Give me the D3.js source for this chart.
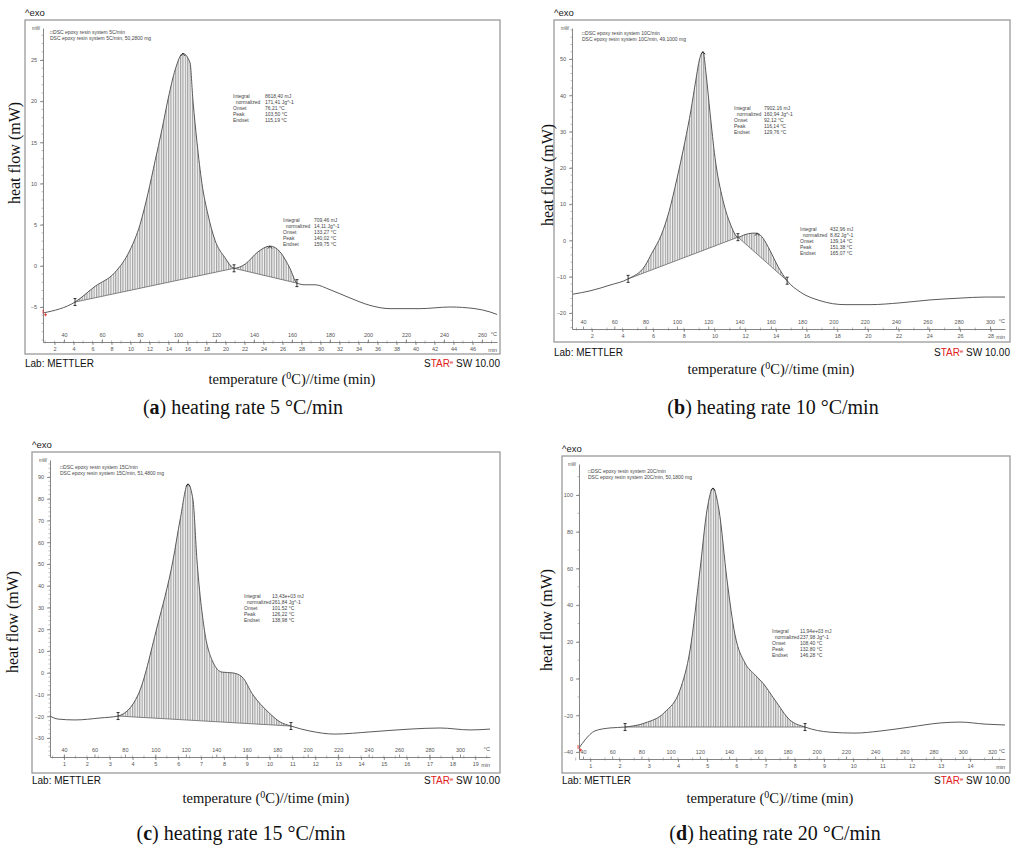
<!DOCTYPE html>
<html>
<head>
<meta charset="utf-8">
<script src="https://cdn.jsdelivr.net/npm/d3@7"></script>
<style>
  body { margin: 0; background: #fff; }
  svg { display: block; }
  text { font-family: "Liberation Sans", Arial, sans-serif; }
  .serif { font-family: "Liberation Serif", "Times New Roman", serif; }
  .tick text { fill: #555; font-size: 5.5px; }
  .tick line { stroke: #666; stroke-width: 0.7; }
</style>
</head>
<body>
<svg id="fig" width="1016" height="846"></svg>
<script>
// (a) 5 C/min : temperature (C) and heat flow (mW)
let tempA = [29.5, 45.8, 56.3, 66.8, 74.7, 80, 84.2, 88, 91.5, 95, 98.5, 102.6, 106.3, 107.9, 110, 112.6, 115.8, 119.5, 124.7, 129.5, 135.3, 142.1, 148.4, 153.7, 158.9, 162.6, 166.8, 172.1, 180, 190.5, 201, 211.6, 227.4, 243.2, 256.3, 264.2, 267.9];
let flowA = [-5.7, -4.4, -2.5, -0.8, 1.9, 5.0, 8.8, 12.8, 16.5, 20.5, 23.8, 25.8, 24.7, 20, 15, 10, 6.2, 3.1, 1.0, -0.3, 0.2, 1.7, 2.4, 1.7, -0.3, -2.1, -2.3, -2.3, -2.9, -3.9, -4.8, -5.2, -5.2, -5, -5.2, -5.6, -5.9];
let limitsA = [45.8, 129.5, 162.6];
let peaksA = [102.6, 148.4];

// (b) 10 C/min
let tempB = [33.6, 44.5, 57.3, 68.8, 79.6, 84, 90, 95, 100, 105, 109, 112, 114.5, 116.7, 118.6, 121.2, 124.3, 129.4, 133.9, 139, 143.5, 148, 151.2, 155, 159.5, 164.6, 170.4, 178.7, 191.4, 207.4, 223.4, 242.6, 261.7, 280.9, 296.9, 309.6];
let flowB = [-14.8, -13.9, -12.3, -10.6, -7.0, -3.5, 1.5, 8, 17, 27, 36, 44, 50, 52, 46, 35, 22.9, 11.1, 4.8, 0.9, 1.6, 2.0, 2.0, 0.6, -2.8, -7.2, -11.1, -14.2, -16.6, -17.7, -17.7, -17.2, -16.4, -15.9, -15.6, -15.6];
let limitsB = [68.8, 139, 170.4];
let peaksB = [116.7, 151.2];

// (c) 15 C/min
let tempC = [30.8, 36.1, 47.2, 63.6, 75.5, 88.6, 101.1, 111.6, 116.2, 121.4, 124.7, 127.3, 131.9, 137.8, 143.7, 151, 156.9, 164.1, 174, 181.8, 189, 201.5, 217.9, 240.9, 267.2, 286.9, 306.6, 319.7];
let flowC = [-19.9, -21.3, -21.7, -20.8, -19.9, -10.2, 21, 51.8, 70.2, 86.8, 79.4, 51.8, 21, 4.9, 0.3, -0.1, -1.9, -10.2, -18, -22.6, -24.5, -26.8, -28.2, -27.2, -25.9, -25.4, -26.3, -25.9];
let limitsC = [75.5, 189];
let peaksC = [121.4];

// (d) 20 C/min
let tempD = [37.3, 41.4, 48.2, 58.5, 68.8, 82.4, 96.1, 106.4, 113.3, 120.1, 124.9, 129, 133.1, 138.6, 144.1, 150.9, 157.8, 163.2, 171.4, 181.7, 192, 209.1, 226.2, 243.3, 263.9, 284.4, 298.1, 315.2, 328.9];
let flowD = [-37.8, -33.4, -28.5, -26.9, -26.4, -24.2, -18.2, -6.2, 15.6, 59.2, 91.8, 103.8, 91.8, 53.7, 23.7, 8.5, 2, -2.5, -11.7, -22.6, -26.4, -29.2, -29.7, -28.6, -26.4, -24.2, -23.7, -24.8, -25.3];
let limitsD = [68.8, 192];
let peaksD = [129];

// evaluation boxes
let annoLabels = ["Integral", "  normalized", "Onset", "Peak", "Endset"];
let annoA1 = ["8618,40 mJ", "171,41 Jg^-1", "76,21 °C", "103,50 °C", "115,19 °C"];
let annoA2 = ["709,46 mJ", "14,11 Jg^-1", "133,27 °C", "140,02 °C", "159,75 °C"];
let annoB1 = ["7902,16 mJ", "160,94 Jg^-1", "92,12 °C", "116,14 °C", "129,76 °C"];
let annoB2 = ["432,96 mJ", "8,82 Jg^-1", "139,14 °C", "151,38 °C", "165,07 °C"];
let annoC = ["13,43e+03 mJ", "261,84 Jg^-1", "101,52 °C", "126,22 °C", "138,98 °C"];
let annoD = ["11,94e+03 mJ", "237,98 Jg^-1", "108,40 °C", "132,80 °C", "146,28 °C"];

let headers = [
  ["□DSC epoxy resin system 5C/min", "DSC epoxy resin system 5C/min, 50,2800 mg"],
  ["□DSC epoxy resin system 10C/min", "DSC epoxy resin system 10C/min, 49,1000 mg"],
  ["□DSC epoxy resin system 15C/min", "DSC epoxy resin system 15C/min, 51,4800 mg"],
  ["□DSC epoxy resin system 20C/min", "DSC epoxy resin system 20C/min, 50,1800 mg"]
];
let captionLetters = ["a", "b", "c", "d"];
let captionTexts = [" heating rate 5 °C/min", " heating rate 10 °C/min", " heating rate 15 °C/min", " heating rate 20 °C/min"];

let svg = d3.select("#fig");

// vertical hatching used by STARe for integrated peaks
let pat = svg.append("defs").append("pattern")
    .attr("id", "hatch")
    .attr("patternUnits", "userSpaceOnUse")
    .attr("width", 2.4).attr("height", 10);
pat.append("rect").attr("width", 2.4).attr("height", 10).attr("fill", "#f4f4f4");
pat.append("line")
    .attr("x1", 0.6).attr("x2", 0.6).attr("y1", 0).attr("y2", 10)
    .attr("stroke", "#8a8a8a").attr("stroke-width", 0.9);

let panels = [
  { temp: tempA, flow: flowA, limits: limitsA, peaks: peaksA, annos: [[annoA1, 233, 98, 32], [annoA2, 283, 222, 31]],
    tDom: [40, 260], tRange: [64, 482], fDom: [-5, 25], fRange: [307, 60],
    frame: [25, 20, 500, 354], axisY: 342, yAxisX: 43, xEnd: 497, yTop: 28, labBase: 367,
    T0: 25, rate: 5, temps: d3.range(40, 261, 20), mins: d3.range(2, 47, 2), minStep: 1,
    fTicks: d3.range(-5, 26, 5), fMinor: 1, startMark: true,
    head: [50, 34], yLab: [20, 153], xLab: [292, 384], cap: [243, 414] },
  { temp: tempB, flow: flowB, limits: limitsB, peaks: peaksB, annos: [[annoB1, 734, 110, 30], [annoB2, 800, 231, 30]],
    tDom: [40, 300], tRange: [583, 990], fDom: [-20, 50], fRange: [313, 59],
    frame: [554, 20, 1010, 342], axisY: 329, yAxisX: 572, xEnd: 1005, yTop: 28, labBase: 356,
    T0: 26, rate: 9.8, temps: d3.range(40, 301, 20), mins: d3.range(2, 29, 2), minStep: 1,
    fTicks: d3.range(-20, 51, 10), fMinor: 2, startMark: false,
    head: [582, 35], yLab: [553, 175], xLab: [771, 374], cap: [773, 414] },
  { temp: tempC, flow: flowC, limits: limitsC, peaks: peaksC, annos: [[annoC, 244, 598, 28]],
    tDom: [40, 300], tRange: [64, 460], fDom: [-30, 90], fRange: [738, 477],
    frame: [32, 452, 500, 773], axisY: 757, yAxisX: 50, xEnd: 490, yTop: 460, labBase: 784,
    T0: 25, rate: 15, temps: d3.range(40, 301, 20), mins: d3.range(1, 20, 1), minStep: 0.5,
    fTicks: d3.range(-30, 91, 10), fMinor: 2, startMark: false,
    head: [60, 469], yLab: [18, 622], xLab: [266, 803], cap: [241, 840] },
  { temp: tempD, flow: flowD, limits: limitsD, peaks: peaksD, annos: [[annoD, 772, 633, 28]],
    tDom: [40, 320], tRange: [583, 992], fDom: [-40, 100], fRange: [752, 495],
    frame: [562, 456, 1010, 773], axisY: 759, yAxisX: 579, xEnd: 1005, yTop: 464, labBase: 784,
    T0: 25, rate: 20, temps: d3.range(40, 321, 20), mins: d3.range(1, 15, 1), minStep: 0.5,
    fTicks: d3.range(-40, 101, 20), fMinor: 10, startMark: true,
    head: [588, 473], yLab: [552, 620], xLab: [770, 803], cap: [775, 840] }
];

panels.forEach(function(p, i) { drawPanel(p, i); });

function drawPanel(p, i) {
  let g = svg.append("g");
  let x = d3.scaleLinear().domain(p.tDom).range(p.tRange);
  let y = d3.scaleLinear().domain(p.fDom).range(p.fRange);
  let fr = p.frame;

  g.append("rect")
      .attr("x", fr[0]).attr("y", fr[1])
      .attr("width", fr[2] - fr[0]).attr("height", fr[3] - fr[1])
      .attr("fill", "none").attr("stroke", "#9a9a9a").attr("stroke-width", 1.3);

  g.append("text").attr("x", fr[0]).attr("y", fr[1] - 4)
      .attr("font-size", 9.5).attr("fill", "#222").text("^exo");
  g.append("text").attr("x", fr[0]).attr("y", p.labBase)
      .attr("font-size", 10).attr("fill", "#111").text("Lab: METTLER");
  let star = g.append("text").attr("x", fr[2]).attr("y", p.labBase)
      .attr("font-size", 10).attr("text-anchor", "end").attr("fill", "#111");
  star.append("tspan").text("S");
  star.append("tspan").attr("fill", "#e0201b").text("TAR");
  star.append("tspan").attr("fill", "#e0201b").attr("font-size", 6).attr("dy", -3).text("e");
  star.append("tspan").attr("dy", 3).text(" SW 10.00");

  // curve names
  headers[i].forEach(function(h, k) {
    g.append("text").attr("x", p.head[0]).attr("y", p.head[1] + k * 6)
        .attr("font-size", 5).attr("fill", "#444").text(h);
  });

  // y axis (mW)
  let yAx = y.copy().domain([y.invert(p.yTop), y.invert(p.axisY)]).range([p.yTop, p.axisY]);
  g.append("g").attr("transform", "translate(" + p.yAxisX + ",0)")
      .call(d3.axisLeft(yAx).tickValues(p.fTicks).tickSize(3).tickSizeOuter(0).tickPadding(3))
      .call(function(a) { a.select(".domain").attr("stroke", "#666").attr("stroke-width", 0.8); });
  let fMinor = d3.range(Math.ceil(yAx.domain()[1] / p.fMinor) * p.fMinor, yAx.domain()[0], p.fMinor);
  g.append("g").selectAll("line").data(fMinor).enter().append("line")
      .attr("x1", p.yAxisX - 1.5).attr("x2", p.yAxisX)
      .attr("y1", function(d) { return y(d); }).attr("y2", function(d) { return y(d); })
      .attr("stroke", "#777").attr("stroke-width", 0.5);
  g.append("text").attr("x", p.yAxisX - 11).attr("y", p.yTop + 2)
      .attr("font-size", 4.5).attr("fill", "#555").text("mW");

  // temperature above / time below, sharing one baseline
  let xAx = x.copy().domain([x.invert(p.yAxisX), x.invert(p.xEnd)]).range([p.yAxisX, p.xEnd]);
  g.append("g").attr("transform", "translate(0," + p.axisY + ")")
      .call(d3.axisTop(xAx).tickValues(p.temps).tickSize(2.5).tickSizeOuter(0).tickPadding(3))
      .call(function(a) { a.select(".domain").attr("stroke", "#666").attr("stroke-width", 0.8); });
  let tScale = d3.scaleLinear().domain([0, 1]).range([x(p.T0), x(p.T0 + p.rate)]);
  g.append("g").attr("transform", "translate(0," + p.axisY + ")")
      .call(d3.axisBottom(tScale).tickValues(p.mins).tickFormat(d3.format("d")).tickSize(3).tickPadding(2))
      .call(function(a) { a.select(".domain").remove(); });
  let tEnd = tScale.invert(p.xEnd);
  let tMinor = d3.range(p.minStep, tEnd, p.minStep);
  g.append("g").selectAll("line").data(tMinor).enter().append("line")
      .attr("x1", function(d) { return tScale(d); }).attr("x2", function(d) { return tScale(d); })
      .attr("y1", p.axisY - 1.5).attr("y2", p.axisY + 1.5)
      .attr("stroke", "#777").attr("stroke-width", 0.5);
  g.append("text").attr("x", p.xEnd).attr("y", p.axisY - 6)
      .attr("font-size", 5.5).attr("fill", "#555").attr("text-anchor", "end").text("°C");
  g.append("text").attr("x", p.xEnd).attr("y", p.axisY + 10)
      .attr("font-size", 5.5).attr("fill", "#555").attr("text-anchor", "end").text("min");

  let pts = p.temp.map(function(t, k) { return { t: t, f: p.flow[k] }; });
  let fAt = function(t) { return p.flow[p.temp.indexOf(t)]; };

  // integrated peaks with linear baseline
  for (let k = 0; k < p.limits.length - 1; k++) {
    let lo = p.limits[k], hi = p.limits[k + 1];
    let base = d3.scaleLinear().domain([lo, hi]).range([fAt(lo), fAt(hi)]);
    let seg = pts.filter(function(d) { return d.t >= lo && d.t <= hi; });
    g.append("path").datum(seg)
        .attr("d", d3.area()
            .x(function(d) { return x(d.t); })
            .y0(function(d) { return y(base(d.t)); })
            .y1(function(d) { return y(d.f); })
            .curve(d3.curveMonotoneX))
        .attr("fill", "url(#hatch)");
    g.append("line")
        .attr("x1", x(lo)).attr("y1", y(fAt(lo)))
        .attr("x2", x(hi)).attr("y2", y(fAt(hi)))
        .attr("stroke", "#666").attr("stroke-width", 0.8);
  }

  g.append("path").datum(pts)
      .attr("d", d3.line()
          .x(function(d) { return x(d.t); })
          .y(function(d) { return y(d.f); })
          .curve(d3.curveMonotoneX))
      .attr("fill", "none").attr("stroke", "#5a5a5a").attr("stroke-width", 1);

  // integration limit markers
  g.append("g").selectAll("path").data(p.limits).enter().append("path")
      .attr("transform", function(t) { return "translate(" + x(t) + "," + y(fAt(t)) + ")"; })
      .attr("d", "M-1.5,-3.5H1.5M0,-3.5V3.5M-1.5,3.5H1.5")
      .attr("fill", "none").attr("stroke", "#222").attr("stroke-width", 0.9);
  // peak markers
  g.append("g").selectAll("path").data(p.peaks).enter().append("path")
      .attr("transform", function(t) { return "translate(" + x(t) + "," + (y(fAt(t)) + 1) + ")"; })
      .attr("d", "M-2,1.5L0,-1L2,1.5")
      .attr("fill", "none").attr("stroke", "#222").attr("stroke-width", 0.9);
  if (p.startMark) {
    g.append("path")
        .attr("transform", "translate(" + x(p.temp[0]) + "," + y(p.flow[0]) + ")")
        .attr("d", "M-1,-3V1M0,2H3M1.5,0.5V3.5")
        .attr("fill", "none").attr("stroke", "#e0201b").attr("stroke-width", 0.8);
  }

  // evaluation results
  p.annos.forEach(function(a) {
    let vals = a[0], ax = a[1], ay = a[2], dx = a[3];
    annoLabels.forEach(function(lab, k) {
      g.append("text").attr("x", ax).attr("y", ay + k * 6)
          .attr("font-size", 5).attr("fill", "#444").attr("xml:space", "preserve").text(lab);
      g.append("text").attr("x", ax + dx).attr("y", ay + k * 6)
          .attr("font-size", 5).attr("fill", "#444").text(vals[k]);
    });
  });

  // axis titles and caption
  g.append("text").attr("class", "serif")
      .attr("transform", "translate(" + p.yLab[0] + "," + p.yLab[1] + ") rotate(-90)")
      .attr("text-anchor", "middle").attr("font-size", 16).attr("fill", "#111")
      .text("heat flow (mW)");
  let xl = g.append("text").attr("class", "serif")
      .attr("x", p.xLab[0]).attr("y", p.xLab[1])
      .attr("text-anchor", "middle").attr("font-size", 14.5).attr("fill", "#111");
  xl.append("tspan").text("temperature (");
  xl.append("tspan").attr("dy", -5).attr("font-size", 10).text("0");
  xl.append("tspan").attr("dy", 5).text("C)//time (min)");
  let cap = g.append("text").attr("class", "serif")
      .attr("x", p.cap[0]).attr("y", p.cap[1])
      .attr("text-anchor", "middle").attr("font-size", 20).attr("fill", "#111");
  cap.append("tspan").text("(");
  cap.append("tspan").attr("font-weight", "bold").text(captionLetters[i]);
  cap.append("tspan").text(")" + captionTexts[i]);
}
</script>
</body>
</html>
